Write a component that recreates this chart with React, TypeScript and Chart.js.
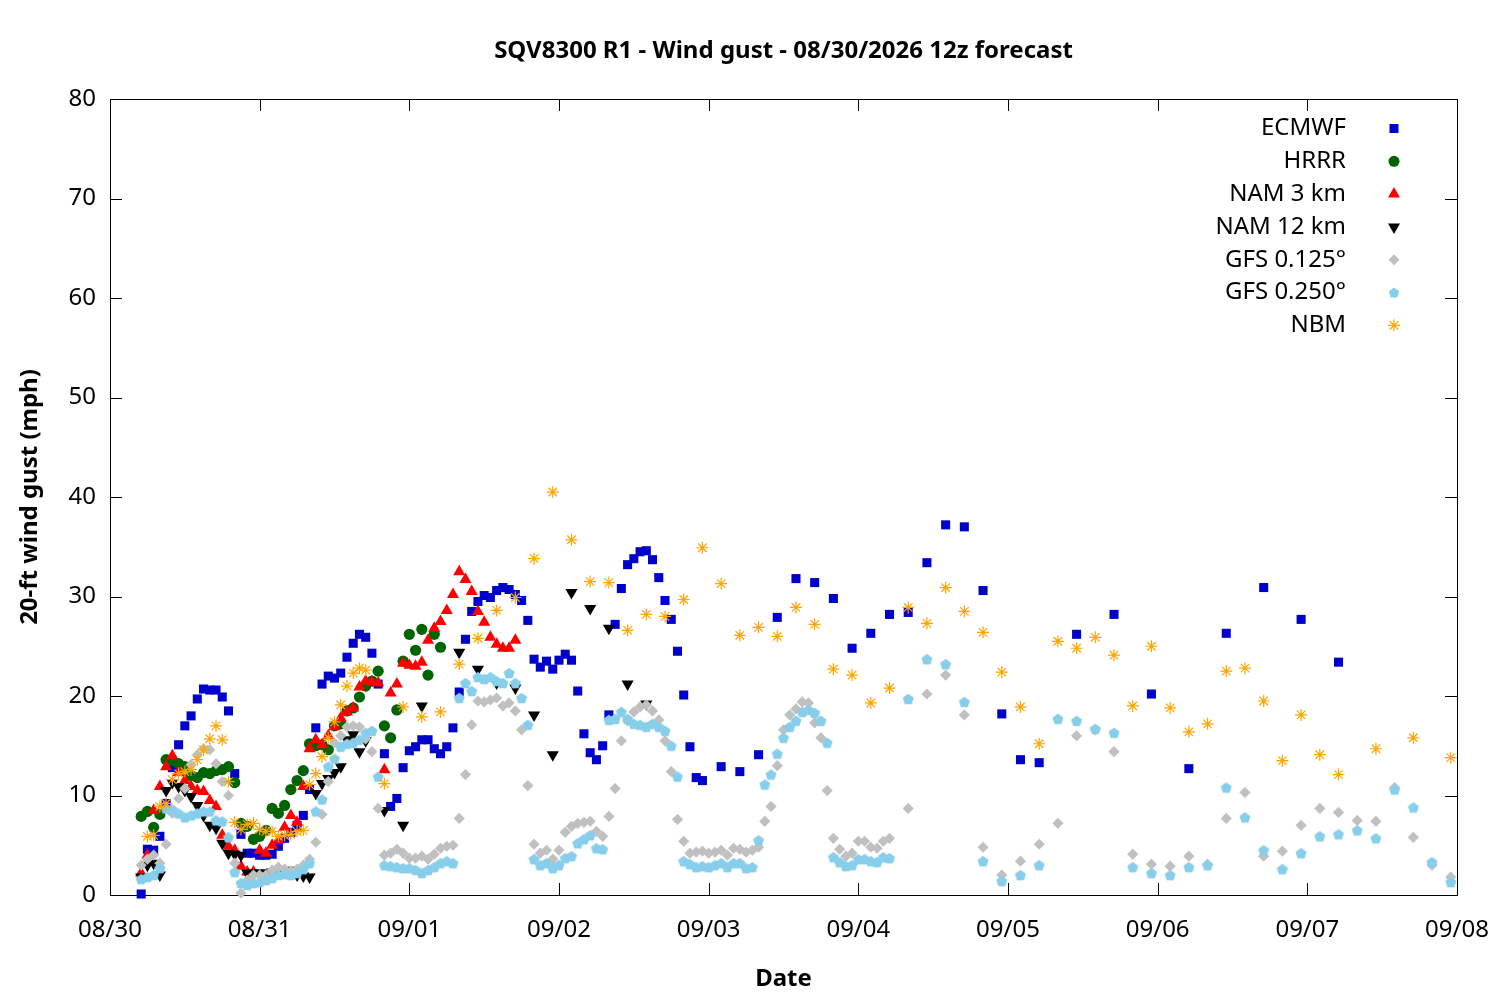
import { useEffect, useRef } from "react";
import { Chart, registerables } from "chart.js";
import type { Plugin } from "chart.js";

Chart.register(...registerables);

const FONT = '"Noto Sans", sans-serif';
const TITLE = "SQV8300 R1 - Wind gust - 08/30/2026 12z forecast";

// x axis: hours since 08/30 00:00 local, one label per day
const dayLabels = ["08/30", "08/31", "09/01", "09/02", "09/03", "09/04", "09/05", "09/06", "09/07", "09/08"];

function span(from: number, to: number, step: number) {
  const out: number[] = [];
  for (let h = from; h <= to; h += step) out.push(h);
  return out;
}

const ecmwfHours = [...span(5, 95, 1), ...span(98, 149, 3), ...span(155, 197, 6)];
const ecmwfGust = [
  0.1, 4.6, 4.5, 5.9, 9.2, 12.8, 15.1, 17.0, 18.0, 19.7,
  20.7, 20.6, 20.6, 19.9, 18.5, 12.2, 6.1, 4.2, 4.2, 4.0,
  4.0, 4.1, 4.9, 5.7, 6.3, 7.0, 8.0, 10.6, 16.8, 21.2,
  22.0, 21.8, 22.3, 23.9, 25.3, 26.2, 25.9, 24.3, 21.2, 14.2,
  8.9, 9.7, 12.8, 14.5, 14.9, 15.6, 15.6, 14.7, 14.2, 14.9,
  16.8, 20.4, 25.7, 28.5, 29.5, 30.1, 29.9, 30.6, 30.9, 30.7,
  30.2, 29.6, 27.6, 23.7, 22.9, 23.5, 22.7, 23.6, 24.2, 23.6,
  20.5, 16.2, 14.3, 13.6, 15.0, 18.1, 27.2, 30.8, 33.2, 33.8,
  34.5, 34.6, 33.7, 31.9, 29.6, 27.7, 24.5, 20.1, 14.9, 11.8,
  11.5,
  12.9, 12.4, 14.1, 27.9, 31.8, 31.4, 29.8, 24.8, 26.3, 28.2,
  28.4, 33.4, 37.2, 37.0, 30.6, 18.2, 13.6, 13.3,
  26.2, 28.2, 20.2, 12.7, 26.3, 30.9, 27.7, 23.4,
];

const hrrrHours = span(5, 53, 1);
const hrrrGust = [
  7.9, 8.4, 6.8, 8.1, 13.6, 13.5, 13.2, 12.9, 12.0, 11.8,
  12.3, 12.2, 12.5, 12.6, 12.9, 11.3, 7.2, 6.9, 5.6, 5.9,
  6.5, 8.7, 8.2, 9.0, 10.6, 11.5, 12.5, 15.2, 15.0, 15.1,
  14.6, 17.0, 17.2, 18.5, 18.8, 19.9, 21.0, 21.5, 22.5, 17.0,
  15.8, 18.6, 23.5, 26.2, 24.6, 26.7, 22.1, 26.2, 24.9,
];

const nam3Hours = span(5, 65, 1);
const nam3Gust = [
  2.2, 4.0, 8.5, 10.9, 12.9, 14.0, 12.3, 11.5, 10.9, 10.5,
  10.4, 9.5, 8.9, 6.0, 4.9, 4.5, 2.9, 2.3, 2.3, 4.5,
  4.2, 5.0, 5.5, 6.8, 8.0, 7.3, 10.9, 14.7, 15.6, 15.1,
  16.0, 16.9, 17.8, 18.4, 18.8, 20.9, 21.5, 21.4, 21.3, 12.6,
  20.3, 21.2, 23.3, 23.1, 23.0, 23.4, 25.6, 26.8, 27.5, 28.6,
  30.2, 32.5, 31.7, 30.5, 28.5, 27.4, 25.9, 25.2, 24.8, 24.8,
  25.6,
];

const nam12Hours = [...span(5, 41, 1), 44, 47, 50, ...span(56, 86, 3)];
const nam12Gust = [
  1.8, 3.0, 3.2, 2.0, 10.5, 11.3, 10.9, 10.5, 9.9, 9.0,
  8.0, 7.0, 6.7, 5.2, 4.2, 4.1, 4.0, 2.2, 2.2, 2.2,
  2.2, 2.3, 2.2, 2.3, 2.5, 2.0, 1.9, 1.8, 10.2, 11.2,
  11.7, 12.3, 12.9, 15.6, 16.1, 14.4, 15.5,
  8.5, 7.0, 19.0,
  24.4, 22.7, 21.3, 20.8, 18.1, 14.1, 30.4, 28.8, 26.8, 21.2,
  19.2,
];

const gfsHours = [...span(5, 125, 1), ...span(128, 215, 3)];
const gfs0125Gust = [
  3.0, 3.6, 4.0, 3.2, 5.1, 8.2, 9.7, 10.7, 13.1, 14.1,
  14.7, 14.6, 13.2, 11.4, 10.0, 3.2, 0.2, 1.5, 2.0, 2.0,
  2.0, 2.5, 2.8, 2.6, 2.4, 2.6, 3.0, 3.6, 5.3, 8.1,
  11.4, 15.3, 16.0, 16.9, 17.0, 16.9, 15.7, 14.4, 8.7, 4.0,
  4.2, 4.6, 4.2, 3.7, 3.7, 3.9, 3.6, 4.1, 4.7, 4.9,
  5.0, 7.7, 12.1, 17.1, 19.5, 19.4, 19.6, 19.8, 19.0, 19.3,
  18.5, 16.6, 11.0, 5.1, 4.2, 4.5, 3.6, 4.5, 6.3, 6.9,
  7.2, 7.3, 7.4, 6.4, 5.9, 7.9, 10.7, 15.5, 17.5, 18.4,
  18.9, 19.1, 18.5, 17.6, 15.5, 12.4, 7.6, 5.4, 4.2, 4.3,
  4.4, 4.2, 4.3, 4.5, 4.0, 4.7, 4.6, 4.3, 4.5, 4.8,
  7.4, 8.9, 13.0, 16.6, 18.1, 18.7, 19.4, 19.3, 17.3, 15.8,
  10.5, 5.7, 4.6, 3.9, 4.2, 5.4, 5.4, 4.8, 4.7, 5.4,
  5.7,
  8.7, 20.2, 22.1, 18.1, 4.8, 2.0, 3.4, 5.1, 7.2, 16.0,
  16.6, 14.4, 4.1, 3.1, 2.9, 3.9, 3.1, 7.7, 10.3, 3.9,
  4.4, 7.0, 8.7, 8.3, 7.5, 7.4, 10.8, 5.8, 3.0, 1.8,
];
const gfs0250Gust = [
  1.6, 1.8, 2.0, 2.7, 8.7, 8.6, 8.2, 7.8, 8.0, 8.2,
  8.4, 8.4, 7.5, 7.4, 5.8, 2.3, 1.2, 1.0, 1.2, 1.3,
  1.5, 1.7, 2.0, 2.1, 2.0, 2.2, 2.6, 3.2, 8.4, 9.6,
  12.9, 13.7, 14.9, 15.2, 15.3, 15.6, 16.3, 16.5, 11.9, 3.0,
  2.9, 2.8, 2.7, 2.7, 2.5, 2.2, 2.5, 2.8, 3.2, 3.4,
  3.2, 19.8, 21.3, 20.5, 21.9, 21.7, 21.9, 21.5, 21.3, 22.3,
  21.3, 19.8, 17.1, 3.6, 3.0, 3.2, 2.7, 3.0, 3.7, 3.9,
  5.2, 5.6, 6.0, 4.7, 4.6, 17.6, 17.7, 18.4, 17.7, 17.2,
  17.1, 16.9, 17.2, 16.9, 16.5, 15.0, 11.9, 3.4, 3.1, 2.8,
  2.9, 2.8, 3.0, 3.2, 2.8, 3.2, 3.2, 2.7, 2.8, 5.5,
  11.1, 12.1, 14.2, 15.8, 16.9, 17.5, 18.4, 18.6, 18.3, 17.5,
  15.3, 3.8, 3.3, 2.9, 3.0, 3.6, 3.6, 3.4, 3.3, 3.8,
  3.7,
  19.7, 23.7, 23.2, 19.4, 3.4, 1.4, 2.0, 3.0, 17.7, 17.5,
  16.7, 16.3, 2.8, 2.2, 2.0, 2.8, 3.0, 10.8, 7.8, 4.5,
  2.6, 4.2, 5.9, 6.1, 6.5, 5.7, 10.6, 8.8, 3.3, 1.3,
];

const nbmHours = [...span(6, 41, 1), ...span(44, 197, 3), 203, 209, 215];
const nbmGust = [
  5.9, 6.0, 8.9, 9.2, 11.6, 12.2, 12.4, 12.6, 13.6, 14.6,
  15.7, 17.0, 15.6, 11.4, 7.3, 6.6, 7.1, 7.2, 6.6, 6.4,
  6.4, 5.9, 6.0, 6.1, 6.4, 6.5, 11.1, 12.2, 13.9, 15.8,
  17.4, 19.1, 21.0, 22.3, 22.8, 22.6,
  11.2, 18.9, 17.9, 18.4, 23.2, 25.8, 28.6, 29.9, 33.8, 40.5,
  35.7, 31.5, 31.4, 26.6, 28.2, 28.0, 29.7, 34.9, 31.3, 26.1,
  26.9, 26.0, 28.9, 27.2, 22.7, 22.1, 19.3, 20.8, 28.9, 27.3,
  30.9, 28.5, 26.4, 22.4, 18.9, 15.2, 25.5, 24.8, 25.9, 24.1,
  19.0, 25.0, 18.8, 16.4, 17.2, 22.5, 22.8, 19.5, 13.5, 18.1,
  14.1, 12.1,
  14.7, 15.8, 13.8,
];

type Marker = "square" | "circle" | "triangle" | "triangleDown" | "diamond" | "pentagon" | "star";

const models: { label: string; color: string; marker: Marker; hours: number[]; gust: number[] }[] = [
  { label: "ECMWF", color: "#0000cc", marker: "square", hours: ecmwfHours, gust: ecmwfGust },
  { label: "HRRR", color: "#006400", marker: "circle", hours: hrrrHours, gust: hrrrGust },
  { label: "NAM 3 km", color: "#ff0000", marker: "triangle", hours: nam3Hours, gust: nam3Gust },
  { label: "NAM 12 km", color: "#000000", marker: "triangleDown", hours: nam12Hours, gust: nam12Gust },
  { label: "GFS 0.125°", color: "#c0c0c0", marker: "diamond", hours: gfsHours, gust: gfs0125Gust },
  { label: "GFS 0.250°", color: "#87ceeb", marker: "pentagon", hours: gfsHours, gust: gfs0250Gust },
  { label: "NBM", color: "#ffa500", marker: "star", hours: nbmHours, gust: nbmGust },
];

function pentagonPath(ctx: CanvasRenderingContext2D, x: number, y: number, r: number) {
  ctx.beginPath();
  for (let i = 0; i < 5; i++) {
    const a = -Math.PI / 2 + (i * 2 * Math.PI) / 5;
    const px = x + r * Math.cos(a);
    const py = y + r * Math.sin(a);
    if (i === 0) ctx.moveTo(px, py);
    else ctx.lineTo(px, py);
  }
  ctx.closePath();
}

function pentagonImage(color: string, r: number) {
  const c = document.createElement("canvas");
  const size = Math.ceil(r * 2) + 2;
  c.width = size;
  c.height = size;
  const g = c.getContext("2d")!;
  g.fillStyle = color;
  pentagonPath(g, size / 2, size / 2 + 0.5, r);
  g.fill();
  return c;
}

// legend symbols, drawn by hand next to the labels
function drawMarker(ctx: CanvasRenderingContext2D, m: Marker, x: number, y: number, color: string) {
  ctx.save();
  ctx.fillStyle = color;
  ctx.strokeStyle = color;
  ctx.lineWidth = 1.2;
  ctx.beginPath();
  if (m === "square") ctx.rect(x - 4.5, y - 4.5, 9, 9);
  else if (m === "circle") ctx.arc(x, y, 5.5, 0, Math.PI * 2);
  else if (m === "triangle") {
    ctx.moveTo(x, y - 7);
    ctx.lineTo(x + 6, y + 3.5);
    ctx.lineTo(x - 6, y + 3.5);
    ctx.closePath();
  } else if (m === "triangleDown") {
    ctx.moveTo(x, y + 7);
    ctx.lineTo(x + 6, y - 3.5);
    ctx.lineTo(x - 6, y - 3.5);
    ctx.closePath();
  } else if (m === "diamond") {
    ctx.moveTo(x, y - 5.5);
    ctx.lineTo(x + 5.5, y);
    ctx.lineTo(x, y + 5.5);
    ctx.lineTo(x - 5.5, y);
    ctx.closePath();
  } else if (m === "pentagon") pentagonPath(ctx, x, y + 0.5, 5.5);
  if (m === "star") {
    for (let i = 0; i < 4; i++) {
      const a = (i * Math.PI) / 4;
      ctx.moveTo(x - 6 * Math.cos(a), y - 6 * Math.sin(a));
      ctx.lineTo(x + 6 * Math.cos(a), y + 6 * Math.sin(a));
    }
    ctx.stroke();
  } else {
    ctx.fill();
  }
  ctx.restore();
}

const framePlugin: Plugin = {
  id: "frame",
  beforeDatasetsDraw(chart) {
    const { ctx, chartArea: a, scales } = chart;
    const tick = 12;
    ctx.save();
    ctx.strokeStyle = "#000";
    ctx.lineWidth = 1;
    ctx.beginPath();
    scales.x.ticks.forEach((t) => {
      const px = Math.round(scales.x.getPixelForValue(t.value)) + 0.5;
      ctx.moveTo(px, a.bottom);
      ctx.lineTo(px, a.bottom - tick);
      ctx.moveTo(px, a.top);
      ctx.lineTo(px, a.top + tick);
    });
    scales.y.ticks.forEach((t) => {
      const py = Math.round(scales.y.getPixelForValue(t.value)) + 0.5;
      ctx.moveTo(a.left, py);
      ctx.lineTo(a.left + tick, py);
      ctx.moveTo(a.right, py);
      ctx.lineTo(a.right - tick, py);
    });
    ctx.stroke();
    ctx.strokeRect(Math.round(a.left) + 0.5, Math.round(a.top) + 0.5, Math.round(a.right - a.left), Math.round(a.bottom - a.top));
    ctx.restore();
  },
  afterDraw(chart) {
    const { ctx, chartArea: a } = chart;
    ctx.save();
    ctx.fillStyle = "#000";
    ctx.textAlign = "center";
    ctx.textBaseline = "middle";
    ctx.font = `bold 24px ${FONT}`;
    ctx.fillText(TITLE, (a.left + a.right) / 2, 51);
    ctx.font = `24px ${FONT}`;
    ctx.textAlign = "right";
    models.forEach((m, i) => {
      const y = a.top + 29.5 + i * 32.8;
      ctx.fillText(m.label, a.right - 111, y);
      drawMarker(ctx, m.marker, a.right - 63, y, m.color);
    });
    ctx.restore();
  },
};

export default function App() {
  const ref = useRef<HTMLCanvasElement>(null);

  useEffect(() => {
    document.body.style.margin = "0";
    if (!ref.current) return;
    const pent = pentagonImage("#87ceeb", 5.8);
    const pointOpts = (m: Marker) => {
      switch (m) {
        case "square": return { pointStyle: "rect", pointRadius: 6.4 };
        case "circle": return { pointStyle: "circle", pointRadius: 5.6 };
        case "triangle": return { pointStyle: "triangle", pointRadius: 7 };
        case "triangleDown": return { pointStyle: "triangle", pointRadius: 7, rotation: 180 };
        case "diamond": return { pointStyle: "rectRot", pointRadius: 5.6 };
        case "pentagon": return { pointStyle: pent, pointRadius: 5.8 };
        default: return { pointStyle: "star", pointRadius: 6 };
      }
    };
    const chart = new Chart(ref.current, {
      type: "scatter",
      plugins: [framePlugin],
      data: {
        datasets: models.map((m, i) => ({
          label: m.label,
          data: m.hours.map((h, j) => ({ x: h, y: m.gust[j] })),
          backgroundColor: m.color,
          borderColor: m.color,
          borderWidth: m.marker === "star" ? 1.2 : 0,
          order: models.length - i,
          clip: false as any,
          ...pointOpts(m.marker),
        })) as any,
      },
      options: {
        animation: false,
        responsive: false,
        devicePixelRatio: 1,
        layout: { padding: { top: 99, right: 43, left: 0, bottom: 0 } },
        plugins: { legend: { display: false }, tooltip: { enabled: false }, title: { display: false } },
        scales: {
          x: {
            type: "linear",
            min: 0,
            max: 216,
            grid: { display: false, drawTicks: false },
            border: { display: false },
            afterFit: (s: any) => {
              s.height = 105;
              s.paddingLeft = 0;
              s.paddingRight = 0;
            },
            ticks: {
              stepSize: 24,
              autoSkip: false,
              maxRotation: 0,
              padding: 21,
              color: "#000",
              font: { family: FONT, size: 24 },
              callback: (v: any) => dayLabels[Math.round(Number(v) / 24)] ?? "",
            },
            title: {
              display: true,
              text: "Date",
              color: "#000",
              font: { family: FONT, size: 24, weight: "bold" },
              padding: { top: 0, bottom: 6 },
            },
          },
          y: {
            min: 0,
            max: 80,
            grid: { display: false, drawTicks: false },
            border: { display: false },
            afterFit: (s: any) => { s.width = 110; },
            ticks: {
              stepSize: 10,
              padding: 14,
              color: "#000",
              font: { family: FONT, size: 24 },
            },
            title: {
              display: true,
              text: "20-ft wind gust (mph)",
              color: "#000",
              font: { family: FONT, size: 24, weight: "bold" },
              padding: { top: 16, bottom: 0 },
            },
          },
        },
      },
    });
    return () => chart.destroy();
  }, []);

  return (
    <div style={{ width: 1500, height: 1000, background: "#fff" }}>
      <canvas ref={ref} width={1500} height={1000} />
    </div>
  );
}
